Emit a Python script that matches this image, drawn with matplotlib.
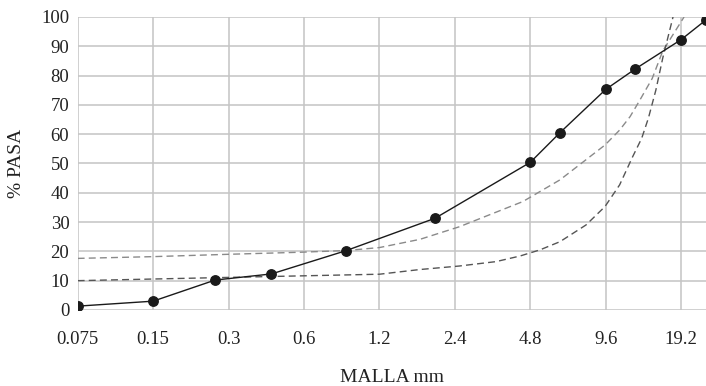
import matplotlib
matplotlib.use("Agg")
import matplotlib.pyplot as plt

plt.rcParams["font.family"] = ["Liberation Serif", "DejaVu Serif"]

# Curva granulometrica (muestra)
malla = [0.075, 0.15, 0.265, 0.445, 0.88, 2.0, 4.8, 6.3, 9.6, 12.6, 19.2, 24.1]
pasa = [1.3, 3.0, 10.2, 12.3, 20.2, 31.3, 50.4, 60.5, 75.3, 82.3, 92.3, 99.0]

# Curva limite superior (gris claro)
lim_a_x = [0.075, 0.15, 0.3, 0.58, 0.89, 1.2, 1.74, 2.5, 4.48, 6.3, 9.53, 10.9,
           12.0, 13.1, 14.7, 16.2, 19.7]
lim_a_y = [17.6, 18.2, 19.0, 19.7, 20.3, 21.3, 24.1, 28.4, 37.0, 44.4, 56.3, 61.4,
           66.0, 71.5, 79.0, 88.4, 100.0]

# Curva limite inferior (gris oscuro)
lim_b_x = [0.075, 0.26, 1.2, 1.74, 2.5, 3.5, 4.36, 5.24, 6.3, 8.0, 9.53, 10.9,
           12.3, 13.35, 14.2, 15.2, 16.2, 17.8]
lim_b_y = [10.0, 11.0, 12.2, 13.8, 15.0, 16.5, 18.4, 20.5, 23.3, 29.0, 35.3, 42.7,
           52.4, 58.6, 65.5, 75.0, 86.0, 100.0]

ticks = [0.075, 0.15, 0.3, 0.6, 1.2, 2.4, 4.8, 9.6, 19.2]
tick_labels = ["0.075", "0.15", "0.3", "0.6", "1.2", "2.4", "4.8", "9.6", "19.2"]

fig = plt.figure(figsize=(7.06, 3.86), dpi=100)
ax = fig.add_axes([0.110, 0.197, 0.890, 0.759])

ax.plot(lim_a_x, lim_a_y, color="#8a8a8a", lw=1.0, ls=(0, (5, 3)))
ax.plot(lim_b_x, lim_b_y, color="#555555", lw=1.0, ls=(0, (5, 3)))
ax.plot(malla, pasa, color="#1a1a1a", lw=1.0, marker="o", ms=6.8,
        markerfacecolor="#1a1a1a", markeredgecolor="#1a1a1a", zorder=5)

ax.set_xscale("log")
ax.set_xlim(0.075, 24.1)
ax.set_ylim(0, 100)
ax.set_xticks(ticks)
ax.set_xticklabels(tick_labels)
ax.minorticks_off()
ax.set_yticks(range(0, 101, 10))

ax.grid(True, color="#c4c4c4", lw=1.1)
ax.set_axisbelow(True)
for s in ax.spines.values():
    s.set_visible(False)
ax.tick_params(length=0, labelsize=13.5, colors="#222222")
ax.tick_params(axis="x", pad=15)
ax.tick_params(axis="y", pad=6)

ax.set_xlabel("MALLA mm", fontsize=14, color="#222222", labelpad=15)
ax.set_ylabel("% PASA", fontsize=14, color="#222222", labelpad=12)

fig.savefig("out.png", dpi=100)
